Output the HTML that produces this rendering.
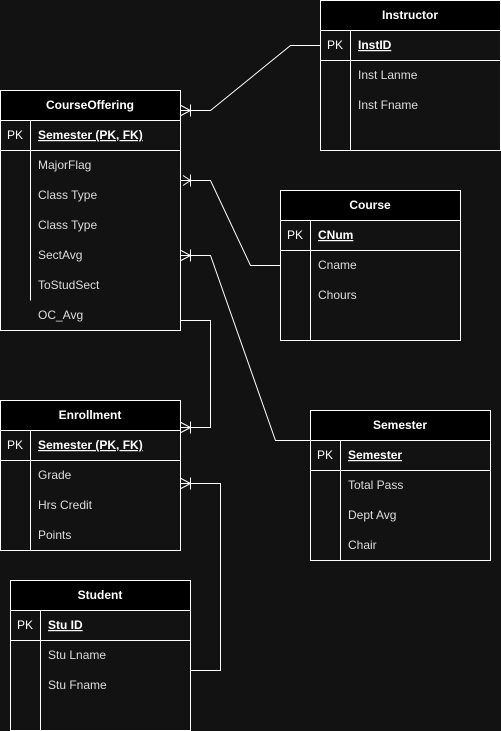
<!DOCTYPE html>
<html><head><style>
html,body{margin:0;padding:0;background:#121212;}
svg{display:block;}
text{font-family:"Liberation Sans",sans-serif;font-size:12px;fill:#dddddd;}
.h{font-weight:bold;fill:#fff;text-anchor:middle;}
.pk{fill:#fff;font-weight:bold;text-decoration:underline;}
</style></head><body>
<svg width="501" height="731" viewBox="0 0 501 731" xmlns="http://www.w3.org/2000/svg">
<rect width="501" height="731" fill="#121212"/>
<g fill="none" stroke="#fff" stroke-width="1">
<!-- connectors -->
<polyline points="320.5,45.5 290.5,45.5 210.5,110.5 180.5,110.5"/>
<polyline points="280.5,265.5 250.5,265.5 210.5,180.5 180.5,180.5"/>
<polyline points="310.5,440.5 275.5,440.5 210.5,255.5 180.5,255.5"/>
<polyline points="180.5,320.5 210.5,320.5 210.5,427.5 180.5,427.5"/>
<polyline points="190.5,670.5 220.5,670.5 220.5,483.5 180.5,483.5"/>
<!-- crow feet -->
<path d="M181 105.5 L190.5 110.5 L181 115.5 M190.5 104.5 V116.5"/>
<path d="M183 175.5 L190.5 180.5 L183 185.5 M190.5 174.5 V186.5"/>
<path d="M181 250.5 L190.5 255.5 L181 260.5 M190.5 249.5 V261.5"/>
<path d="M181 422.5 L190.5 427.5 L181 432.5 M190.5 421.5 V433.5"/>
<path d="M181 478.5 L190.5 483.5 L181 488.5 M190.5 477.5 V489.5"/>
</g>
<!-- Table template -->
<g id="t1">
<rect x="320.5" y="0.5" width="180" height="150" fill="#121212" stroke="#fff"/>
<rect x="320.5" y="0.5" width="180" height="30" fill="#000" stroke="#fff"/>
<line x1="320.5" y1="60.5" x2="500.5" y2="60.5" stroke="#fff"/>
<line x1="350.5" y1="30.5" x2="350.5" y2="150.5" stroke="#fff"/>
<text class="h" x="410" y="19">Instructor</text>
<text x="327" y="49" style="fill:#fff">PK</text><text class="pk" x="358" y="49">InstID</text>
<text x="358" y="79">Inst Lanme</text><text x="358" y="109">Inst Fname</text>
</g>
<g>
<rect x="0.5" y="90.5" width="180" height="240" fill="#121212" stroke="#fff"/>
<rect x="0.5" y="90.5" width="180" height="30" fill="#000" stroke="#fff"/>
<line x1="0.5" y1="150.5" x2="180.5" y2="150.5" stroke="#fff"/>
<line x1="30.5" y1="120.5" x2="30.5" y2="300.5" stroke="#fff"/>
<text class="h" x="90" y="109">CourseOffering</text>
<text x="7" y="139" style="fill:#fff">PK</text><text class="pk" x="38" y="139">Semester (PK, FK)</text>
<text x="38" y="169">MajorFlag</text><text x="38" y="199">Class Type</text><text x="38" y="229">Class Type</text>
<text x="38" y="259">SectAvg</text><text x="38" y="289">ToStudSect</text><text x="38" y="319">OC_Avg</text>
</g>
<g>
<rect x="280.5" y="190.5" width="180" height="150" fill="#121212" stroke="#fff"/>
<rect x="280.5" y="190.5" width="180" height="30" fill="#000" stroke="#fff"/>
<line x1="280.5" y1="250.5" x2="460.5" y2="250.5" stroke="#fff"/>
<line x1="310.5" y1="220.5" x2="310.5" y2="340.5" stroke="#fff"/>
<text class="h" x="370" y="209">Course</text>
<text x="287" y="239" style="fill:#fff">PK</text><text class="pk" x="318" y="239">CNum</text>
<text x="318" y="269">Cname</text><text x="318" y="299">Chours</text>
</g>
<g>
<rect x="310.5" y="410.5" width="180" height="150" fill="#121212" stroke="#fff"/>
<rect x="310.5" y="410.5" width="180" height="30" fill="#000" stroke="#fff"/>
<line x1="310.5" y1="470.5" x2="490.5" y2="470.5" stroke="#fff"/>
<line x1="340.5" y1="440.5" x2="340.5" y2="560.5" stroke="#fff"/>
<text class="h" x="400" y="429">Semester</text>
<text x="317" y="459" style="fill:#fff">PK</text><text class="pk" x="348" y="459">Semester</text>
<text x="348" y="489">Total Pass</text><text x="348" y="519">Dept Avg</text><text x="348" y="549">Chair</text>
</g>
<g>
<rect x="0.5" y="400.5" width="180" height="150" fill="#121212" stroke="#fff"/>
<rect x="0.5" y="400.5" width="180" height="30" fill="#000" stroke="#fff"/>
<line x1="0.5" y1="460.5" x2="180.5" y2="460.5" stroke="#fff"/>
<line x1="30.5" y1="430.5" x2="30.5" y2="550.5" stroke="#fff"/>
<text class="h" x="90" y="419">Enrollment</text>
<text x="7" y="449" style="fill:#fff">PK</text><text class="pk" x="38" y="449">Semester (PK, FK)</text>
<text x="38" y="479">Grade</text><text x="38" y="509">Hrs Credit</text><text x="38" y="539">Points</text>
</g>
<g>
<rect x="10.5" y="580.5" width="180" height="150" fill="#121212" stroke="#fff"/>
<rect x="10.5" y="580.5" width="180" height="30" fill="#000" stroke="#fff"/>
<line x1="10.5" y1="640.5" x2="190.5" y2="640.5" stroke="#fff"/>
<line x1="40.5" y1="610.5" x2="40.5" y2="730.5" stroke="#fff"/>
<text class="h" x="100" y="599">Student</text>
<text x="17" y="629" style="fill:#fff">PK</text><text class="pk" x="48" y="629">Stu ID</text>
<text x="48" y="659">Stu Lname</text><text x="48" y="689">Stu Fname</text>
</g>
</svg>
</body></html>
